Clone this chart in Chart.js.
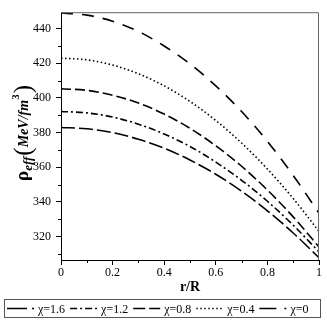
<!DOCTYPE html>
<html><head><meta charset="utf-8">
<script src="https://cdn.jsdelivr.net/npm/chart.js@4/dist/chart.umd.min.js"></script>
<style>html,body{margin:0;padding:0;background:#fff}</style>
</head><body>
<canvas id="c" width="327" height="325" style="width:327px;height:325px;display:block"></canvas>
<script>
// r/R sample positions
const rValues = [0, 0.1, 0.2, 0.3, 0.4, 0.5, 0.6, 0.7, 0.8, 0.9, 1.0];
// rho_eff (MeV/fm^3)
const rhoChi0   = [449.0, 447.8, 444.3, 438.4, 430.0, 419.6, 407.0, 392.2, 375.0, 355.3, 333.5];
const rhoChi04  = [423.0, 422.0, 419.0, 414.0, 407.0, 398.0, 387.0, 374.0, 359.0, 342.0, 323.0];
const rhoChi08  = [405.3, 404.4, 401.6, 397.1, 390.7, 382.5, 372.4, 360.6, 346.9, 331.4, 314.0];
const rhoChi12  = [392.2, 391.4, 389.0, 384.9, 379.2, 372.0, 363.0, 352.5, 340.4, 326.6, 311.2];
const rhoChi16  = [383.0, 382.2, 380.0, 376.2, 371.0, 364.2, 356.0, 346.2, 334.9, 322.1, 307.8];
const seriesLabels = ['χ=1.6', 'χ=1.2', 'χ=0.8', 'χ=0.4', 'χ=0'];
const xTickValues = [0, 0.2, 0.4, 0.6, 0.8, 1];
const yTickValues = [320, 340, 360, 380, 400, 420, 440];
const xMinorTicks = [0.1, 0.3, 0.5, 0.7, 0.9];
const yMinorTicks = [310, 330, 350, 370, 390, 410, 430];

const seriesData = [rhoChi16, rhoChi12, rhoChi08, rhoChi04, rhoChi0];
const dashes = [[14, 4], [7, 3, 2, 3], [10, 4], [1.5, 2.5], [12, 9]];
const legendDashes = [[20, 5], [7, 3, 2, 3], [12, 4], [1.5, 2.5], [17, 8]];

const SERIF = '"Liberation Serif", "Times New Roman", serif';

const datasets = seriesData.map((arr, i) => ({
  label: seriesLabels[i],
  data: arr.map((v, k) => ({x: rValues[k], y: v})),
  borderColor: '#000',
  borderWidth: 1.6,
  borderDash: dashes[i],
  pointRadius: 0,
  fill: false,
  tension: 0.4,
  cubicInterpolationMode: 'monotone'
}));

const extras = {
  id: 'extras',
  afterDraw(chart) {
    const ctx = chart.ctx;
    const a = chart.chartArea;
    const xs = chart.scales.x, ys = chart.scales.y;
    ctx.save();
    // frame top/right
    ctx.strokeStyle = '#666';
    ctx.lineWidth = 1;
    ctx.beginPath();
    ctx.moveTo(a.left, a.top + 0.5); ctx.lineTo(a.right - 0.5, a.top + 0.5); ctx.lineTo(a.right - 0.5, a.bottom);
    ctx.stroke();
    // minor ticks
    ctx.strokeStyle = '#000';
    ctx.beginPath();
    xMinorTicks.forEach(v => { const px = Math.round(xs.getPixelForValue(v)) + 0.5; ctx.moveTo(px, a.bottom); ctx.lineTo(px, a.bottom + 3); });
    yMinorTicks.forEach(v => { const py = Math.round(ys.getPixelForValue(v)) + 0.5; ctx.moveTo(a.left, py); ctx.lineTo(a.left - 3, py); });
    ctx.stroke();

    // y-axis title
    ctx.save();
    ctx.translate(28, 181);
    ctx.rotate(-Math.PI / 2);
    ctx.fillStyle = '#000';
    ctx.textAlign = 'left';
    ctx.textBaseline = 'alphabetic';
    let x = 0;
    const part = (t, f, dy) => { ctx.font = f; ctx.fillText(t, x, dy); x += ctx.measureText(t).width; };
    part('ρ', 'bold 19px ' + SERIF, 0);
    part('eff', 'bold italic 13px ' + SERIF, 4);
    x += 1;
    part('(', '25px ' + SERIF, 3);
    part('MeV/fm', 'bold italic 14px ' + SERIF, 0);
    part('3', 'bold 11px ' + SERIF, -9);
    x += 1;
    part(')', '25px ' + SERIF, 3);
    ctx.restore();

    // legend
    ctx.strokeStyle = '#555';
    ctx.lineWidth = 1;
    ctx.strokeRect(4.5, 299.5, 316, 18);
    ctx.font = '12px ' + SERIF;
    ctx.textBaseline = 'middle';
    ctx.textAlign = 'left';
    ctx.fillStyle = '#000';
    let lx = 7;
    const ly = 308.5;
    seriesLabels.forEach((lab, i) => {
      ctx.save();
      ctx.strokeStyle = '#000';
      ctx.lineWidth = 1.5;
      ctx.setLineDash(legendDashes[i]);
      ctx.beginPath(); ctx.moveTo(lx, ly); ctx.lineTo(lx + 27, ly); ctx.stroke();
      ctx.restore();
      lx += 31;
      ctx.fillText(lab, lx, ly + 1);
      lx += ctx.measureText(lab).width + 5;
    });
    ctx.restore();
  }
};

new Chart(document.getElementById('c'), {
  type: 'line',
  data: {datasets},
  options: {
    responsive: false,
    animation: false,
    devicePixelRatio: 1,
    layout: {padding: {top: 5, right: 8, left: 0, bottom: 0}},
    plugins: {legend: {display: false}, tooltip: {enabled: false}},
    scales: {
      x: {
        type: 'linear', min: 0, max: 1,
        afterBuildTicks: s => { s.ticks = xTickValues.map(v => ({value: v})); },
        afterFit: s => { s.height = 65; },
        grid: {drawOnChartArea: false, drawTicks: true, tickLength: 5, color: '#000', tickColor: '#000'},
        border: {display: true, color: '#000', width: 1},
        ticks: {color: '#000', padding: 1, maxRotation: 0, font: {family: SERIF, size: 12}, callback: v => String(v)},
        title: {display: true, text: 'r/R', color: '#000', font: {family: SERIF, size: 14, weight: 'bold'}, padding: {top: 0, bottom: 29}}
      },
      y: {
        type: 'linear', min: 306.5, max: 449.5,
        afterBuildTicks: s => { s.ticks = yTickValues.map(v => ({value: v})); },
        afterFit: s => { s.width = 61; },
        grid: {drawOnChartArea: false, drawTicks: true, tickLength: 5, color: '#000', tickColor: '#000'},
        border: {display: true, color: '#000', width: 1},
        ticks: {color: '#000', padding: 5, font: {family: SERIF, size: 12}, callback: v => String(v)}
      }
    }
  },
  plugins: [extras]
});
</script>
</body></html>
